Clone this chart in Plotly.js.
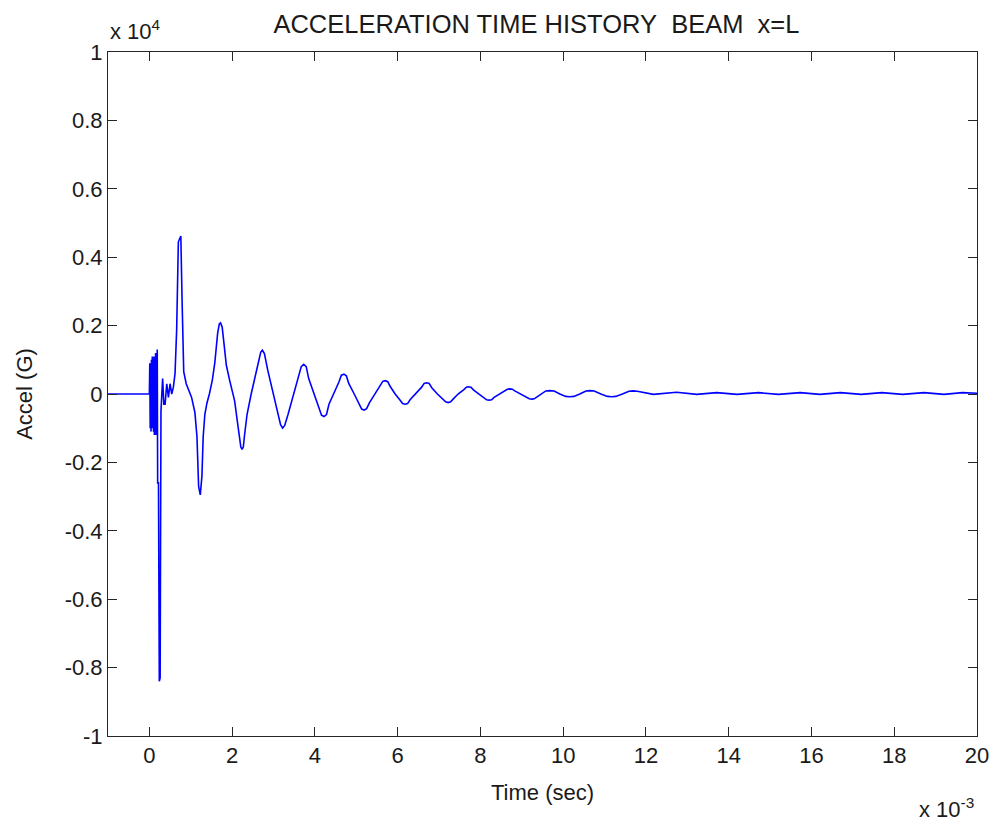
<!DOCTYPE html>
<html>
<head>
<meta charset="utf-8">
<script src="https://cdn.plot.ly/plotly-3.0.1.min.js"></script>
<style>html,body{margin:0;padding:0;background:#fff;}#chart{width:994px;height:824px;}</style>
</head>
<body>
<div id="chart"></div>
<script>
// Time in units of 1e-3 s, acceleration in units of 1e4 G (as the axis multipliers show)
const timeE3 = [
  -1, 0.00, 0.01, 0.02, 0.03, 0.04, 0.05, 0.06, 0.07, 0.08, 0.09, 0.10, 0.11, 0.12, 0.13, 0.14, 0.15, 0.16, 0.17, 0.18, 0.19,
  0.20, 0.22, 0.24, 0.26, 0.28, 0.32, 0.35, 0.38, 0.42, 0.46, 0.50, 0.54, 0.58, 0.62, 0.66, 0.70, 0.76, 0.79, 0.83, 0.89, 0.95,
  1.02, 1.10, 1.15, 1.19, 1.23, 1.27, 1.30, 1.34, 1.39, 1.45, 1.52, 1.58, 1.65, 1.69, 1.72, 1.76, 1.80, 1.86, 1.94,
  2.06, 2.12, 2.18, 2.21, 2.24, 2.27, 2.30, 2.36, 2.46, 2.55, 2.63, 2.69, 2.73, 2.78, 2.86, 3.00, 3.10, 3.17, 3.22, 3.27, 3.35, 3.48,
  3.60, 3.67, 3.73, 3.79, 3.85, 3.98, 4.10, 4.16, 4.22, 4.28, 4.34, 4.46, 4.58, 4.64, 4.70, 4.76, 4.82, 4.95,
  5.07, 5.13, 5.19, 5.25, 5.32, 5.45, 5.58, 5.64, 5.70, 5.76, 5.82, 5.94, 6.06, 6.12, 6.18, 6.24, 6.30, 6.44,
  6.58, 6.64, 6.70, 6.76, 6.82, 6.96, 7.10, 7.16, 7.22, 7.28, 7.34, 7.46, 7.60, 7.66, 7.71, 7.77, 7.83, 7.96,
  8.10, 8.15, 8.21, 8.27, 8.33, 8.46, 8.60, 8.65, 8.71, 8.77, 8.83, 8.97, 9.12, 9.18, 9.24, 9.30, 9.36, 9.46,
  9.58, 9.68, 9.78, 9.92, 10.06, 10.16, 10.26, 10.40, 10.55, 10.65, 10.75, 10.91, 11.07, 11.17, 11.27, 11.43,
  11.59, 11.69, 11.79, 12.18, 12.74, 13.23, 13.71, 14.20, 14.72, 15.20, 15.73, 16.20, 16.70, 17.20,
  17.70, 18.20, 18.72, 19.20, 19.65, 20.00
];
const accelE4 = [
  0, 0, 0.09, -0.10, 0.07, -0.11, 0.10, -0.09, 0.11, -0.10, 0.08, -0.11, 0.11, -0.12, 0.09, -0.11, 0.12, -0.12, 0.10, -0.10, 0.13,
  -0.26, -0.26, -0.84, -0.83, -0.05, 0.045, -0.03, -0.03, 0.03, -0.01, 0.03, 0.00, 0.02, 0.06, 0.19, 0.445, 0.462, 0.275, 0.065, 0.03, 0.012,
  -0.01, -0.054, -0.125, -0.27, -0.295, -0.24, -0.125, -0.06, -0.027, 0.00, 0.04, 0.09, 0.178, 0.205, 0.208, 0.195, 0.143, 0.084, 0.04,
  -0.02, -0.075, -0.134, -0.155, -0.162, -0.155, -0.12, -0.06, 0.00, 0.05, 0.09, 0.122, 0.128, 0.118, 0.07, 0.00, -0.05, -0.09, -0.10, -0.092, -0.06, 0.00,
  0.05, 0.08, 0.087, 0.08, 0.045, 0.00, -0.04, -0.062, -0.066, -0.060, -0.03, 0.00, 0.035, 0.055, 0.058, 0.053, 0.03, 0.00,
  -0.03, -0.044, -0.047, -0.043, -0.025, 0.00, 0.024, 0.037, 0.039, 0.036, 0.022, 0.00, -0.018, -0.028, -0.030, -0.028, -0.017, 0.00,
  0.020, 0.031, 0.033, 0.031, 0.019, 0.00, -0.015, -0.023, -0.025, -0.023, -0.015, 0.00, 0.013, 0.020, 0.021, 0.020, 0.012, 0.00,
  -0.011, -0.017, -0.018, -0.017, -0.010, 0.00, 0.009, 0.014, 0.015, 0.014, 0.009, 0.00, -0.009, -0.014, -0.015, -0.014, -0.009, 0.00,
  0.009, 0.010, 0.009, 0.00, -0.007, -0.008, -0.007, 0.00, 0.009, 0.010, 0.009, 0.00, -0.007, -0.008, -0.007, 0.00,
  0.008, 0.009, 0.008, -0.001, 0.005, -0.001, 0.004, -0.001, 0.004, -0.001, 0.004, -0.001, 0.004, -0.001,
  0.004, -0.001, 0.004, -0.001, 0.004, 0.002
];
const xTickVals = [0, 2, 4, 6, 8, 10, 12, 14, 16, 18, 20];
const xTickText = ["0", "2", "4", "6", "8", "10", "12", "14", "16", "18", "20"];
const yTickVals = [1, 0.8, 0.6, 0.4, 0.2, 0, -0.2, -0.4, -0.6, -0.8, -1];
const yTickText = ["1", "0.8", "0.6", "0.4", "0.2", "0", "-0.2", "-0.4", "-0.6", "-0.8", "-1"];

const FONT = "Liberation Sans, Arial, Helvetica, sans-serif";
const axisCommon = {
  showline: true, linecolor: "#262626", linewidth: 1, mirror: "ticks",
  ticks: "inside", ticklen: 9, tickwidth: 1, tickcolor: "#262626",
  showgrid: false, zeroline: false,
  tickfont: {family: FONT, size: 22, color: "#1a1a1a"},
  tickmode: "array"
};

const trace = {
  x: timeE3, y: accelE4, type: "scatter", mode: "lines",
  line: {color: "#0000ff", width: 1.6}, hoverinfo: "skip"
};

const layout = {
  width: 994, height: 824,
  margin: {l: 108, r: 17, t: 52, b: 88},
  paper_bgcolor: "#ffffff", plot_bgcolor: "#ffffff",
  showlegend: false,
  title: {
    text: "ACCELERATION TIME HISTORY\u00a0\u00a0BEAM\u00a0\u00a0x=L",
    font: {family: FONT, size: 25.5, color: "#1a1a1a"},
    x: 0.493, xref: "paper", xanchor: "center",
    y: 1 - 24 / 824, yref: "container", yanchor: "middle"
  },
  xaxis: Object.assign({}, axisCommon, {
    range: [-1, 20], tickvals: xTickVals, ticktext: xTickText,
    title: {text: "Time (sec)", font: {family: FONT, size: 22, color: "#1a1a1a"}, standoff: 17}
  }),
  yaxis: Object.assign({}, axisCommon, {
    range: [-1, 1], tickvals: yTickVals, ticktext: yTickText,
    title: {text: "Accel (G)", font: {family: FONT, size: 22, color: "#1a1a1a"}, standoff: 25}
  }),
  annotations: [
    {text: "x 10<sup>4</sup>", xref: "paper", yref: "paper", x: 0, y: 1, xanchor: "left", yanchor: "bottom",
     yshift: 6, showarrow: false, font: {family: FONT, size: 22, color: "#1a1a1a"}},
    {text: "x 10<sup>-3</sup>", xref: "paper", yref: "paper", x: 1, y: 0, xanchor: "right", yanchor: "top",
     yshift: -56, xshift: -1, showarrow: false, font: {family: FONT, size: 22, color: "#1a1a1a"}}
  ]
};

Plotly.newPlot("chart", [trace], layout, {displayModeBar: false, staticPlot: true});
</script>
</body>
</html>
